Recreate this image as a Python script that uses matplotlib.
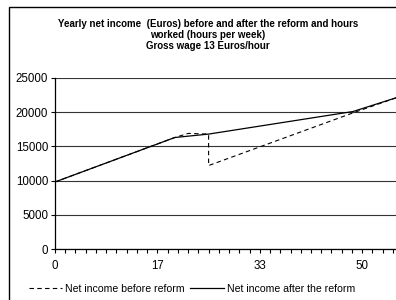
import numpy as np
import matplotlib
matplotlib.use("Agg")
import matplotlib.pyplot as plt
from matplotlib.patches import Rectangle

plt.rcParams['font.family'] = ['Liberation Sans', 'DejaVu Sans']

# Data (hours per week vs yearly net income in euros)
after_hours = [0, 19.5, 25, 48.5, 55.5]
after_income = [9800, 16300, 16800, 20100, 22100]
before_hours = [0, 19.5, 21.7, 25, 25, 48.5, 55.5]
before_income = [9800, 16300, 16900, 16800, 12200, 19900, 22100]

xtick_pos = [0, 50 / 3, 100 / 3, 50]
xtick_labels = ['0', '17', '33', '50']
yticks = [0, 5000, 10000, 15000, 20000, 25000]

title = ("Yearly net income  (Euros) before and after the reform and hours\n"
         "worked (hours per week)\n"
         "Gross wage 13 Euros/hour")

fig = plt.figure(figsize=(3.96, 3.0), dpi=100)

# chart area border
fig.patches.append(Rectangle((9 / 396, -0.1), 1.1, 1 - 7 / 300 + 0.1,
                             transform=fig.transFigure, fill=False,
                             edgecolor='black', linewidth=1.0))

ax = fig.add_axes([55 / 396, 1 - 249 / 300, (396 - 55) / 396, 171 / 300])

ax.plot(before_hours, before_income, color='black', linestyle=(0, (4, 3)),
        linewidth=0.8, label='Net income before reform')
ax.plot(after_hours, after_income, color='black', linestyle='-',
        linewidth=0.9, label='Net income after the reform')

ax.set_xlim(0, 55.5)
ax.set_ylim(0, 25000)
ax.set_yticks(yticks)
ax.set_yticklabels([str(v) for v in yticks], fontsize=8.3)
ax.set_xticks(xtick_pos)
ax.set_xticklabels(xtick_labels, fontsize=8.3)
ax.set_xticks(np.arange(0, 56, 5 / 3), minor=True)
ax.tick_params(axis='x', which='both', direction='out', length=3, width=0.8, pad=5)
ax.tick_params(axis='y', direction='out', length=3, width=0.8, pad=2)

ax.grid(axis='y', color='#333333', linewidth=0.8)
ax.set_axisbelow(True)
for s in ['top', 'right']:
    ax.spines[s].set_visible(False)
for s in ['left', 'bottom']:
    ax.spines[s].set_linewidth(0.9)

fig.text(0.525, 1 - 19 / 300, title, ha='center', va='top', fontsize=7,
         fontweight='bold', linespacing=1.15)

fig.legend(loc='center', bbox_to_anchor=(0.485, 1 - 289 / 300), ncol=2,
           frameon=False, fontsize=7.6, handlelength=3.2, columnspacing=0.5,
           handletextpad=0.3, borderaxespad=0)

fig.savefig('out.png', dpi=100)
